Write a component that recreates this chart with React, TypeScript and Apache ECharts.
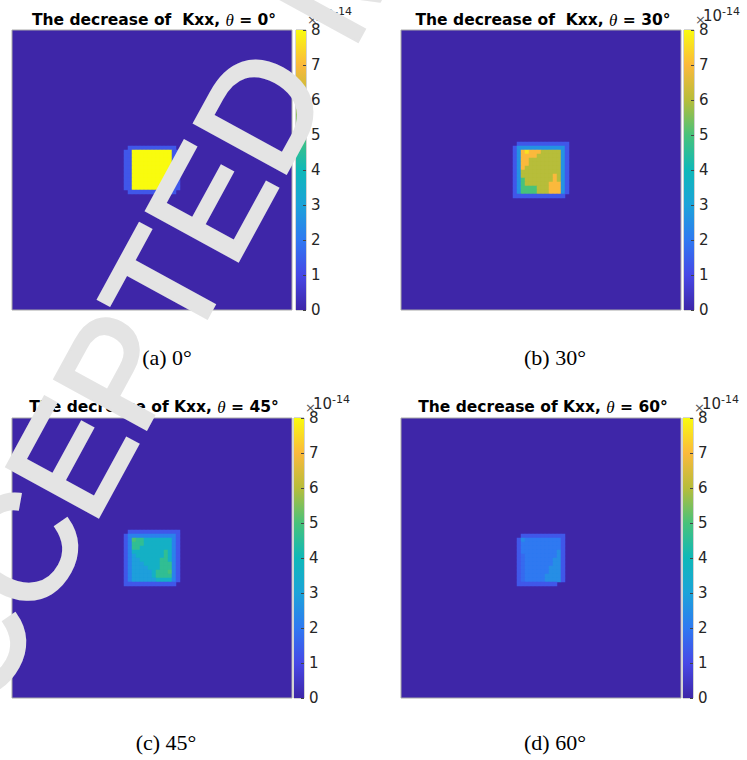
import React, { useEffect, useRef } from 'react';
import * as echarts from 'echarts';

// MATLAB parula colormap, evenly spaced over [0, 8] x 1e-14
const PARULA = ['#3e26a8', '#4748e6', '#2f79f1', '#1ca3d9', '#0fb8b8', '#48c27a', '#b7bd3a', '#fbb93c', '#f9fb0e'];
const V_MIN = 0;
const V_MAX = 8;
const CB_INTERVAL = 1;
const GRID_N = 70; // cells per side of the field
const PATCH_ROW0 = 28; // first row of the non-zero patch
const PATCH_COL0 = 28; // first column of the non-zero patch

const TITLE_TEXTS = ['The decrease of  Kxx, ', 'The decrease of  Kxx, ', 'The decrease of Kxx, ', 'The decrease of Kxx, '];
const ANGLES = ['0', '30', '45', '60'];
const CAPTIONS = ['(a) 0°', '(b) 30°', '(c) 45°', '(d) 60°'];
const EXPONENT = '-14';
const WATERMARK = 'ACCEPTED MANUSCRIPT';

// Non-zero patches (units of 1e-14), rows 28..41, cols 28..41
const KXX_0 = [
  [0, 0, 0, 0, 0, 0, 0, 0, 0, 0, 0, 0, 0, 0],
  [0, 1.3, 1.3, 1.3, 1.3, 1.3, 1.3, 1.3, 1.3, 1.3, 1.3, 1.3, 1.3, 0],
  [1.3, 1.3, 8, 8, 8, 8, 8, 8, 8, 8, 8, 8, 1.3, 1.3],
  [1.3, 1.3, 8, 8, 8, 8, 8, 8, 8, 8, 8, 8, 1.3, 1.3],
  [1.3, 1.3, 8, 8, 8, 8, 8, 8, 8, 8, 8, 8, 1.3, 1.3],
  [1.3, 1.3, 8, 8, 8, 8, 8, 8, 8, 8, 8, 8, 1.3, 1.3],
  [1.3, 1.3, 8, 8, 8, 8, 8, 8, 8, 8, 8, 8, 1.3, 1.3],
  [1.3, 1.3, 8, 8, 8, 8, 8, 8, 8, 8, 8, 8, 1.3, 1.3],
  [1.3, 1.3, 8, 8, 8, 8, 8, 8, 8, 8, 8, 8, 1.3, 1.3],
  [1.3, 1.3, 8, 8, 8, 8, 8, 8, 8, 8, 8, 8, 1.3, 1.3],
  [1.3, 1.3, 8, 8, 8, 8, 8, 8, 8, 8, 8, 8, 1.3, 1.3],
  [1.3, 1.3, 8, 8, 8, 8, 8, 8, 8, 8, 8, 8, 1.3, 1.3],
  [0, 1.3, 1.3, 1.3, 1.3, 1.3, 1.3, 1.3, 1.3, 1.3, 1.3, 1.3, 1.3, 0],
  [0, 0, 0, 0, 0, 0, 0, 0, 0, 0, 0, 0, 0, 0],
];

const KXX_30 = [
  [0, 1.3, 1.3, 1.3, 1.3, 1.3, 1.3, 1.3, 1.3, 1.3, 1.3, 1.3, 1.3, 1.3],
  [1.3, 2.6, 2.6, 2.6, 2.6, 2.6, 2.6, 2.6, 2.6, 2.6, 2.6, 2.6, 2.6, 1.3],
  [1.3, 2.6, 7, 7.6, 7, 7, 7, 6, 6, 6, 6, 6, 2.6, 1.3],
  [1.3, 2.6, 7, 7, 7, 7, 6, 6, 6, 6, 6, 6, 2.6, 1.3],
  [1.3, 2.6, 7, 7, 6, 6, 6, 6, 6, 6, 6, 6, 2.6, 1.3],
  [1.3, 2.6, 7, 7, 6, 6, 6, 6, 6, 6, 6, 6, 2.6, 1.3],
  [1.3, 2.6, 7, 6, 6, 6, 6, 6, 6, 6, 6, 6, 2.6, 1.3],
  [1.3, 2.6, 6, 6, 6, 6, 6, 6, 6, 6, 6, 6, 2.6, 1.3],
  [1.3, 2.6, 6, 6, 6, 6, 6, 6, 6, 6, 7, 6, 2.6, 1.3],
  [1.3, 2.6, 5, 6, 6, 6, 6, 6, 6, 6, 7, 6, 2.6, 1.3],
  [1.3, 2.6, 5, 6, 6, 6, 6, 6, 6, 7, 7, 7, 2.6, 1.3],
  [1.3, 2.6, 5, 5, 5, 5, 6, 6, 6, 7, 7, 7, 2.6, 1.3],
  [1.3, 2.6, 5, 5, 5, 5, 6, 6, 6, 7, 7, 7, 2.6, 1.3],
  [1.3, 1.3, 1.3, 1.3, 1.3, 1.3, 1.3, 1.3, 1.3, 1.3, 1.3, 1.3, 1.3, 0],
];

const KXX_45 = [
  [0, 1.3, 1.3, 1.3, 1.3, 1.3, 1.3, 1.3, 1.3, 1.3, 1.3, 1.3, 1.3, 1.3],
  [1.3, 2.2, 2.2, 2.2, 2.2, 2.2, 2.2, 2.2, 2.2, 2.2, 2.2, 2.2, 2.2, 1.3],
  [1.3, 2.2, 5, 4.6, 4.6, 3.6, 3.6, 3.6, 3.6, 3.6, 3.6, 3.6, 2.2, 1.3],
  [1.3, 2.2, 4.6, 4.6, 4.6, 3.6, 3.6, 3.6, 3.6, 3.6, 3.6, 3.6, 2.2, 1.3],
  [1.3, 2.2, 4.6, 4.6, 3.6, 3.6, 3.6, 3.6, 3.6, 3.6, 3.6, 3.6, 2.2, 1.3],
  [1.3, 2.2, 3.6, 3.6, 3.6, 3.6, 3.6, 3.6, 3.6, 3.6, 4.6, 3.6, 2.2, 1.3],
  [1.3, 2.2, 2.9, 3.6, 3.6, 3.6, 3.6, 3.6, 3.6, 3.6, 4.6, 3.6, 2.2, 1.3],
  [1.3, 2.2, 2.9, 2.9, 3.6, 3.6, 3.6, 3.6, 3.6, 4.6, 4.6, 3.6, 2.2, 1.3],
  [1.3, 2.2, 2.9, 2.9, 2.9, 3.6, 3.6, 3.6, 3.6, 4.6, 4.6, 4.6, 2.2, 1.3],
  [1.3, 2.2, 2.9, 2.9, 2.9, 2.9, 3.6, 3.6, 3.6, 4.6, 4.6, 4.6, 2.2, 1.3],
  [1.3, 2.2, 2.9, 2.9, 2.9, 2.9, 2.9, 3.6, 4.6, 4.6, 4.6, 5, 2.2, 1.3],
  [1.3, 2.2, 2.9, 2.9, 2.9, 2.9, 2.9, 3.6, 4.6, 4.6, 4.6, 4.6, 2.2, 1.3],
  [1.3, 2.2, 2.9, 2.9, 2.9, 2.9, 2.9, 2.9, 3.6, 3.6, 3.6, 3.6, 2.2, 1.3],
  [1.3, 1.3, 1.3, 1.3, 1.3, 1.3, 1.3, 1.3, 1.3, 1.3, 1.3, 1.3, 1.3, 0],
];

const KXX_60 = [
  [0, 0, 0, 0, 0, 0, 0, 0, 0, 0, 0, 0, 0, 0],
  [0, 0, 1.3, 1.3, 1.3, 1.3, 1.3, 1.3, 1.3, 1.3, 1.3, 1.3, 1.3, 0],
  [0, 1.3, 2.4, 2, 2, 2, 2, 2, 2, 2, 2, 2, 1.3, 0],
  [0, 1.3, 2, 2, 2, 2, 2, 2, 2, 2, 2, 2, 1.3, 0],
  [0, 1.3, 2, 2, 2, 2, 2, 2, 2, 2, 2, 2, 1.3, 0],
  [0, 1.3, 2, 2, 2, 2, 2, 2, 2, 2, 2, 2.5, 1.3, 0],
  [0, 1.3, 1.7, 2, 2, 2, 2, 2, 2, 2, 2, 2.5, 1.3, 0],
  [0, 1.3, 1.7, 2, 2, 2, 2, 2, 2, 2, 2.5, 2.5, 1.3, 0],
  [0, 1.3, 1.7, 2, 2, 2, 2, 2, 2, 2, 2.5, 2.5, 1.3, 0],
  [0, 1.3, 1.7, 2, 2, 2, 2, 2, 2, 2.5, 2.5, 2.5, 1.3, 0],
  [0, 1.3, 1.7, 2, 2, 2, 2, 2, 2, 2.5, 2.5, 2.5, 1.3, 0],
  [0, 1.3, 1.7, 2, 2, 2, 2, 2, 2.5, 2.5, 2.5, 2.5, 1.3, 0],
  [0, 1.3, 1.7, 2, 2, 2, 2, 2, 2.5, 2.5, 2.5, 2.5, 1.3, 0],
  [0, 1.3, 1.3, 1.3, 1.3, 1.3, 1.3, 1.3, 1.3, 1.3, 1.3, 0, 0, 0],
];

const PATCHES = [KXX_0, KXX_30, KXX_45, KXX_60];

// layout
const PLOT_POS = [
  { left: 12, top: 30 },
  { left: 401, top: 30 },
  { left: 12, top: 418 },
  { left: 401, top: 418 },
];
const CBAR_LEFT = [296, 684, 294, 683];
const PLOT_SIZE = 280;
const CBAR_W = 10;
const CAPTION_POS = [
  { x: 167, y: 357 },
  { x: 555, y: 357 },
  { x: 166, y: 742 },
  { x: 555, y: 742 },
];

function patchToData(patch: number[][]) {
  const out: [number, number, number][] = [];
  patch.forEach((row, r) => {
    row.forEach((v, c) => {
      if (v > 0) out.push([PATCH_COL0 + c, PATCH_ROW0 + r, v]);
    });
  });
  return out;
}

function buildOption() {
  const cellCats = Array.from({ length: GRID_N }, (_, i) => String(i));
  const grids: any[] = [];
  const xAxes: any[] = [];
  const yAxes: any[] = [];
  const series: any[] = [];

  PLOT_POS.forEach((p, i) => {
    grids.push({
      left: p.left, top: p.top, width: PLOT_SIZE, height: PLOT_SIZE,
      show: true, backgroundColor: PARULA[0], borderColor: '#a8a8a8', borderWidth: 1,
    });
    xAxes.push({ type: 'category', gridIndex: i, data: cellCats, show: false });
    yAxes.push({ type: 'category', gridIndex: i, data: cellCats, show: false, inverse: true });
    series.push({
      type: 'heatmap', xAxisIndex: i, yAxisIndex: i,
      data: patchToData(PATCHES[i]),
      emphasis: { disabled: true },
      itemStyle: { borderWidth: 0 },
    });
  });

  const gradStops = PARULA.map((c, k) => ({ offset: k / (PARULA.length - 1), color: c }));
  PLOT_POS.forEach((p, i) => {
    const gi = 4 + i;
    grids.push({
      left: CBAR_LEFT[i], top: p.top, width: CBAR_W, height: PLOT_SIZE,
      show: true, borderColor: '#a8a8a8', borderWidth: 1, backgroundColor: 'transparent',
    });
    xAxes.push({ type: 'category', gridIndex: gi, data: ['cb'], show: false });
    yAxes.push({
      type: 'value', gridIndex: gi, min: V_MIN, max: V_MAX, interval: CB_INTERVAL,
      position: 'right', z: 5,
      axisLine: { show: false },
      splitLine: { show: false },
      axisTick: { show: true, inside: true, length: 3, lineStyle: { color: '#444', width: 1 } },
      axisLabel: { color: '#262626', fontSize: 15, fontFamily: 'DejaVu Sans', margin: 5 },
    });
    series.push({
      type: 'bar', xAxisIndex: gi, yAxisIndex: gi, data: [V_MAX],
      barWidth: '100%', silent: true,
      itemStyle: { color: new echarts.graphic.LinearGradient(0, 1, 0, 0, gradStops) },
    });
  });

  const graphics: any[] = [];
  PLOT_POS.forEach((p, i) => {
    const titleY = i < 2 ? 20 : 407;
    graphics.push({
      type: 'text', x: p.left + PLOT_SIZE / 2 + 2, y: titleY, z: 10,
      style: {
        text: TITLE_TEXTS[i] + '{th|θ} = ' + ANGLES[i] + '°',
        fontSize: 15.5, fontWeight: 'bold', fontFamily: 'DejaVu Sans', fill: '#000',
        align: 'center', verticalAlign: 'middle',
        rich: { th: { fontSize: 17, fontStyle: 'italic', fontWeight: 'normal', fontFamily: 'Liberation Serif', fill: '#000' } },
      },
    });
    const cb = CBAR_LEFT[i];
    const dy = p.top - 30;
    graphics.push({
      type: 'text', x: cb + 11, y: 19 + dy, z: 10,
      style: { text: '×', fontSize: 13, fontFamily: 'DejaVu Sans', fill: '#555', align: 'left', verticalAlign: 'middle' },
    });
    graphics.push({
      type: 'text', x: cb + 19, y: 16 + dy, z: 10,
      style: { text: '10', fontSize: 15, fontFamily: 'DejaVu Sans', fill: '#262626', align: 'left', verticalAlign: 'middle' },
    });
    graphics.push({
      type: 'text', x: cb + 38, y: 11 + dy, z: 10,
      style: { text: EXPONENT, fontSize: 11, fontFamily: 'DejaVu Sans', fill: '#262626', align: 'left', verticalAlign: 'middle' },
    });
    graphics.push({
      type: 'text', x: CAPTION_POS[i].x, y: CAPTION_POS[i].y, z: 10,
      style: { text: CAPTIONS[i], fontSize: 22, fontFamily: 'Liberation Serif', fill: '#000', align: 'center', verticalAlign: 'middle' },
    });
  });

  graphics.push({
    type: 'text', x: -105, y: 780, rotation: (61.4 * Math.PI) / 180, z: 100,
    style: {
      text: WATERMARK, fontSize: 150, fontFamily: 'Liberation Sans',
      fill: '#e4e4e4', stroke: '#e4e4e4', lineWidth: 4,
      align: 'left', verticalAlign: 'middle',
    },
  });

  return {
    animation: false,
    backgroundColor: '#ffffff',
    grid: grids,
    xAxis: xAxes,
    yAxis: yAxes,
    visualMap: {
      type: 'continuous', show: false, min: V_MIN, max: V_MAX,
      seriesIndex: [0, 1, 2, 3], inRange: { color: PARULA },
    },
    series,
    graphic: { elements: graphics },
  };
}

export default function App() {
  const ref = useRef<HTMLDivElement>(null);
  useEffect(() => {
    if (!ref.current) return;
    const chart = echarts.init(ref.current, undefined, { renderer: 'svg' });
    chart.setOption(buildOption() as any);
    return () => chart.dispose();
  }, []);
  return (
    <div
      ref={ref}
      style={{ position: 'fixed', left: 0, top: 0, width: 747, height: 760, background: '#fff' }}
    />
  );
}
